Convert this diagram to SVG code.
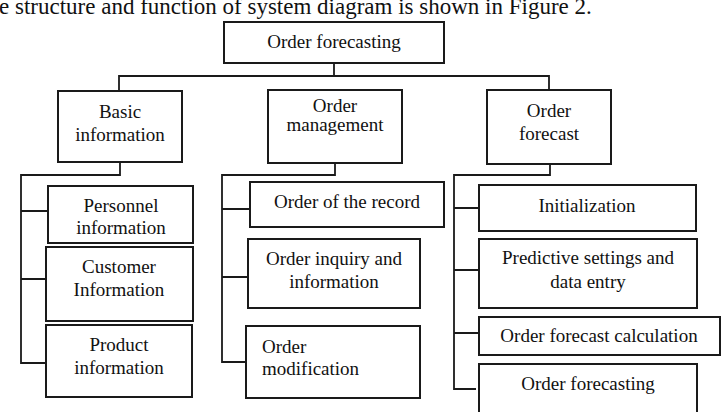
<svg xmlns="http://www.w3.org/2000/svg" width="724" height="412" viewBox="0 0 724 412">
<style>
  .box { fill: #ffffff; stroke: #1a1a1a; stroke-width: 2; }
  .t { font-family: "Liberation Serif", "Times New Roman", serif; font-size: 19px; fill: #111111; text-anchor: middle; }
  .tl { font-family: "Liberation Serif", "Times New Roman", serif; font-size: 19px; fill: #111111; text-anchor: start; }
  .cap { font-family: "Liberation Serif", "Times New Roman", serif; font-size: 23px; fill: #111111; }
  .conn { fill: none; stroke: #1a1a1a; stroke-width: 1.8; }
</style>
<rect width="724" height="412" fill="#ffffff"/>
<text class="cap" x="-1" y="14">e structure and function of system diagram is shown in Figure 2.</text>

<g id="connectors">
  <path class="conn" d="M334,63 V76 M119,91 V76 H549 V90"/>
  <path class="conn" d="M120,162 V175 H21 V363 H47 M21,211 H48 M21,279 H47"/>
  <path class="conn" d="M335,163 V175 H222 V362 H246 M222,209 H250 M222,277 H248"/>
  <path class="conn" d="M550,164 V175 H454 V389 H476 M454,208 H479 M454,270 H479 M454,333 H479"/>
</g>

<g id="root">
  <rect class="box" x="224" y="22" width="220" height="41"/>
  <text class="t" x="334" y="48">Order forecasting</text>
</g>
<g id="basic-information">
  <rect class="box" x="58" y="91" width="124" height="71"/>
  <text class="t" x="120" y="118">Basic</text>
  <text class="t" x="120" y="141">information</text>
</g>
<g id="order-management">
  <rect class="box" x="268" y="90" width="134" height="73"/>
  <text class="t" x="335" y="112">Order</text>
  <text class="t" x="335" y="131">management</text>
</g>
<g id="order-forecast">
  <rect class="box" x="487" y="90" width="124" height="74"/>
  <text class="t" x="549" y="117">Order</text>
  <text class="t" x="549" y="140">forecast</text>
</g>

<g id="personnel-information">
  <rect class="box" x="48" y="186" width="145" height="57"/>
  <text class="t" x="121" y="212">Personnel</text>
  <text class="t" x="121" y="234">information</text>
</g>
<g id="customer-information">
  <rect class="box" x="46" y="247" width="147" height="74"/>
  <text class="t" x="119" y="273">Customer</text>
  <text class="t" x="119" y="296">Information</text>
</g>
<g id="product-information">
  <rect class="box" x="46" y="325" width="146" height="72"/>
  <text class="t" x="119" y="351">Product</text>
  <text class="t" x="119" y="374">information</text>
</g>

<g id="order-of-the-record">
  <rect class="box" x="250" y="182" width="194" height="45"/>
  <text class="t" x="347" y="208">Order of the record</text>
</g>
<g id="order-inquiry">
  <rect class="box" x="248" y="239" width="172" height="69"/>
  <text class="t" x="334" y="265">Order inquiry and</text>
  <text class="t" x="334" y="288">information</text>
</g>
<g id="order-modification">
  <rect class="box" x="246" y="326" width="174" height="72"/>
  <text class="tl" x="262" y="353">Order</text>
  <text class="tl" x="262" y="375">modification</text>
</g>

<g id="initialization">
  <rect class="box" x="479" y="185" width="217" height="46"/>
  <text class="t" x="587" y="212">Initialization</text>
</g>
<g id="predictive-settings">
  <rect class="box" x="479" y="239" width="218" height="69"/>
  <text class="t" x="588" y="264">Predictive settings and</text>
  <text class="t" x="588" y="288">data entry</text>
</g>
<g id="order-forecast-calculation">
  <rect class="box" x="479" y="317" width="241" height="38"/>
  <text class="t" x="599" y="342">Order forecast calculation</text>
</g>
<g id="order-forecasting-result">
  <rect class="box" x="479" y="364" width="218" height="60"/>
  <text class="t" x="588" y="390">Order forecasting</text>
</g>
</svg>
